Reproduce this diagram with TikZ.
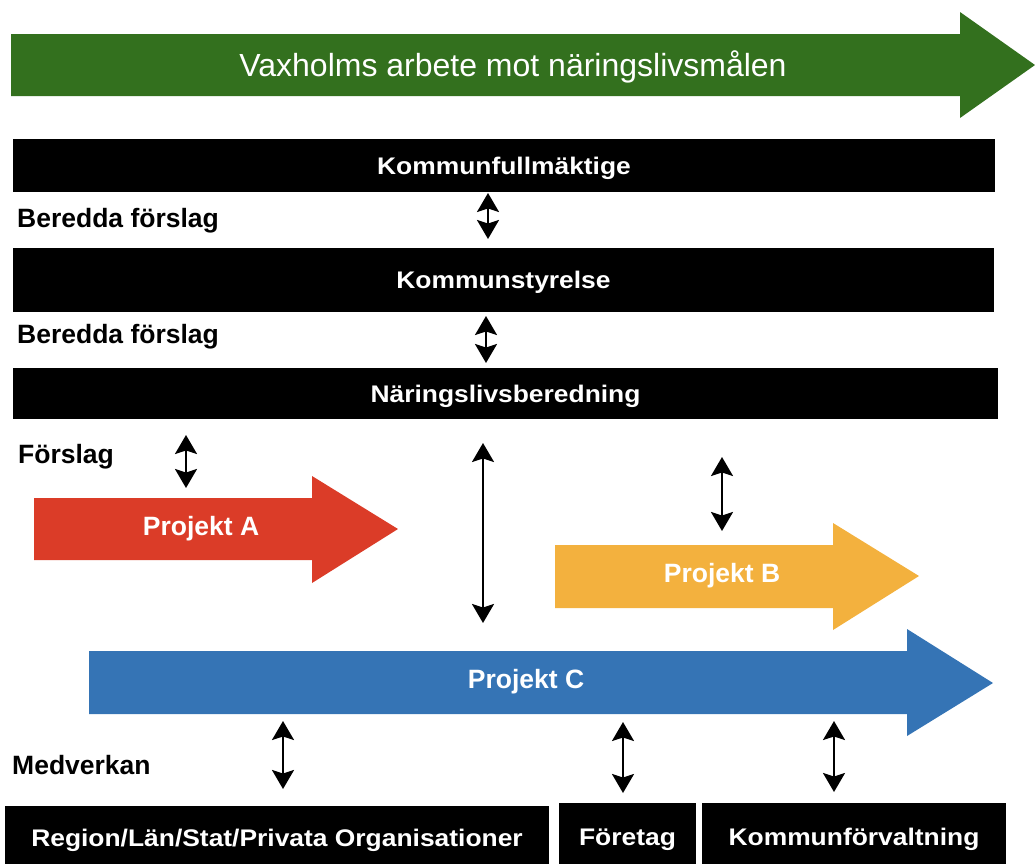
\documentclass[tikz,border=0pt]{standalone}
\usepackage{fontspec}
\setmainfont{Liberation Sans}
\newfontfamily\barfont{Liberation Sans Bold}[FakeStretch=1.1]
\usetikzlibrary{arrows.meta}
\definecolor{cgreen}{RGB}{51,112,30}
\definecolor{cred}{RGB}{219,60,40}
\definecolor{cyellow}{RGB}{243,177,62}
\definecolor{cblue}{RGB}{53,116,181}
\tikzset{
  bar/.style={fill=black, text=white, inner sep=0pt, font=\barfont\fontsize{24pt}{28pt}\selectfont, text height=17.2pt, text depth=0pt},
  sidelabel/.style={anchor=base west, inner sep=0pt, font=\bfseries\fontsize{26.5pt}{30pt}\selectfont},
  projlabel/.style={inner sep=0pt, text=white, font=\bfseries\fontsize{26.5pt}{30pt}\selectfont, text height=19pt, text depth=0pt},
  titlelabel/.style={inner sep=0pt, text=white, font=\fontsize{32pt}{36pt}\selectfont, text height=23pt, text depth=0pt},
  dbl/.style={line width=2.2pt, {Stealth[length=19pt,width=22pt,inset=3.5pt]}-{Stealth[length=19pt,width=22pt,inset=3.5pt]}}
}
\begin{document}
\begin{tikzpicture}[x=1pt,y=-1pt]
\useasboundingbox (0,0) rectangle (1035,863);
% big arrows
\fill[cgreen] (11,34) -- (960,34) -- (960,12) -- (1035,65) -- (960,118) -- (960,96) -- (11,96) -- cycle;
\node[titlelabel] (title) at (513,64.5) {Vaxholms arbete mot näringslivsmålen};

\fill[cred] (34,498) -- (312,498) -- (312,476) -- (398,529) -- (312,583) -- (312,560) -- (34,560) -- cycle;
\node[projlabel] (pa) at (201,526) {Projekt A};

\fill[cyellow] (555,545) -- (833,545) -- (833,523) -- (919,576) -- (833,630) -- (833,608) -- (555,608) -- cycle;
\node[projlabel] (pb) at (722,573) {Projekt B};

\fill[cblue] (89,651) -- (907,651) -- (907,629) -- (993,683) -- (907,736) -- (907,714) -- (89,714) -- cycle;
\node[projlabel] (pc) at (526,679) {Projekt C};

% bars
\node[bar, minimum width=982pt, minimum height=53pt] (kf) at (504,165.5) {Kommunfullmäktige};
\node[bar, minimum width=981pt, minimum height=64pt] (ks) at (503.5,280) {Kommunstyrelse};
\node[bar, minimum width=985pt, minimum height=51pt] (nb) at (505.5,393.5) {Näringslivsberedning};

\node[bar, minimum width=544pt, minimum height=64pt] (reg) at (277,838) {Region/Län/Stat/Privata Organisationer};
\node[bar, minimum width=137pt, minimum height=67pt] (ftg) at (627.5,836.5) {Företag};
\node[bar, minimum width=304pt, minimum height=67pt] (kfv) at (854,836.5) {Kommunförvaltning};

% side labels
\node[sidelabel] (bf1) at (17,227) {Beredda förslag};
\node[sidelabel] (bf2) at (17,343) {Beredda förslag};
\node[sidelabel] (fs) at (18,463) {Förslag};
\node[sidelabel] (mv) at (12,774) {Medverkan};

% connectors
\coordinate (a1s) at (488,193); \coordinate (a1e) at (488,239);
\coordinate (a2s) at (486,316); \coordinate (a2e) at (486,363);
\coordinate (a3s) at (186,435); \coordinate (a3e) at (186,488);
\coordinate (a4s) at (483,443); \coordinate (a4e) at (483,623);
\coordinate (a5s) at (722,457); \coordinate (a5e) at (722,531);
\coordinate (a6s) at (283,721); \coordinate (a6e) at (283,789);
\coordinate (a7s) at (623,722); \coordinate (a7e) at (623,793);
\coordinate (a8s) at (834,721); \coordinate (a8e) at (834,792);
\draw[dbl] (a1s) -- (a1e);
\draw[dbl] (a2s) -- (a2e);
\draw[dbl] (a3s) -- (a3e);
\draw[dbl] (a4s) -- (a4e);
\draw[dbl] (a5s) -- (a5e);
\draw[dbl] (a6s) -- (a6e);
\draw[dbl] (a7s) -- (a7e);
\draw[dbl] (a8s) -- (a8e);
\end{tikzpicture}
\end{document}
